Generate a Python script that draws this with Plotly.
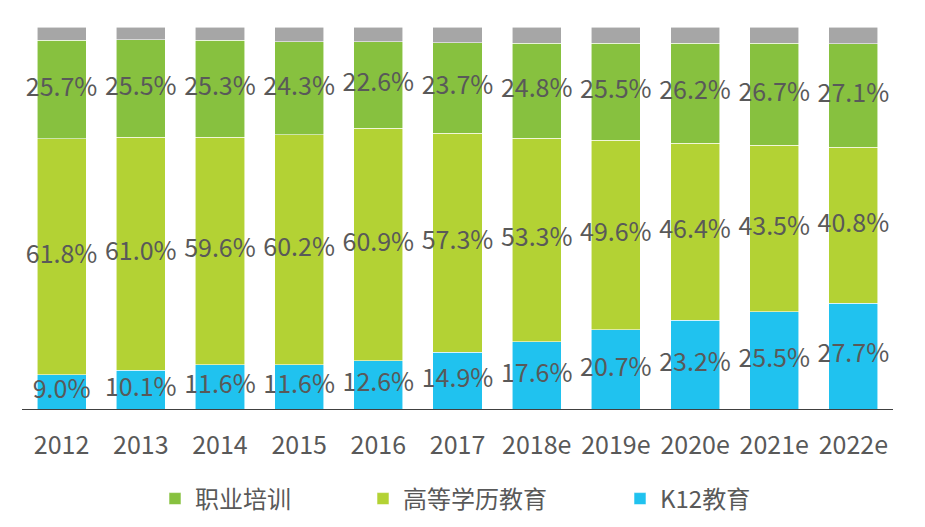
import plotly.graph_objects as go

years = ["2012", "2013", "2014", "2015", "2016", "2017", "2018e", "2019e", "2020e", "2021e", "2022e"]
k12 = [9.0, 10.1, 11.6, 11.6, 12.6, 14.9, 17.6, 20.7, 23.2, 25.5, 27.7]
higher = [61.8, 61.0, 59.6, 60.2, 60.9, 57.3, 53.3, 49.6, 46.4, 43.5, 40.8]
vocational = [25.7, 25.5, 25.3, 24.3, 22.6, 23.7, 24.8, 25.5, 26.2, 26.7, 27.1]
other = [3.5, 3.4, 3.5, 3.9, 3.9, 4.1, 4.3, 4.2, 4.2, 4.3, 4.4]

C_K12 = "#20C2EF"
C_HIGH = "#B3D234"
C_VOC = "#87C13F"
C_OTHER = "#A6A6A6"
TXT = "#595959"
FONT = "Noto Sans CJK SC"

fig = go.Figure()
line = dict(color="rgba(255,255,255,0.7)", width=0.8)
fig.add_bar(x=years, y=k12, name="K12教育", marker=dict(color=C_K12, line=line), legend="legend3")
fig.add_bar(x=years, y=higher, name="高等学历教育", marker=dict(color=C_HIGH, line=line), legend="legend2")
fig.add_bar(x=years, y=vocational, name="职业培训", marker=dict(color=C_VOC, line=line), legend="legend")
fig.add_bar(x=years, y=other, name="其他", marker=dict(color=C_OTHER, line=line), showlegend=False)

def mids(base, vals):
    return [b + v / 2 for b, v in zip(base, vals)]

zero = [0] * len(years)
base_high = k12
base_voc = [a + b for a, b in zip(k12, higher)]
for base, vals in [(zero, k12), (base_high, higher), (base_voc, vocational)]:
    fig.add_scatter(x=years, y=mids(base, vals), mode="text",
                    text=[f"{v:.1f}%" for v in vals],
                    textfont=dict(family=FONT, size=25, color=TXT),
                    showlegend=False, hoverinfo="skip", cliponaxis=False)

leg_common = dict(orientation="h", xref="container", yref="container", y=1 - 491 / 527,
                  yanchor="middle", xanchor="left", font=dict(family=FONT, size=24, color=TXT),
                  bgcolor="rgba(0,0,0,0)", borderwidth=0, tracegroupgap=0)

fig.update_layout(
    width=925, height=527,
    margin=dict(l=14, r=40, t=19, b=126, autoexpand=False),
    barmode="stack", bargap=0.38,
    plot_bgcolor="white", paper_bgcolor="white",
    font=dict(family=FONT, color=TXT),
    showlegend=True,
    legend=dict(x=147 / 925, **leg_common),
    legend2=dict(x=355 / 925, **leg_common),
    legend3=dict(x=612 / 925, **leg_common),
    xaxis=dict(showline=True, linecolor="#404040", linewidth=1, showgrid=False,
               tickfont=dict(family=FONT, size=25, color=TXT), ticks="", ticklabelstandoff=14,
               range=[-0.5, 10.5]),
    yaxis=dict(range=[0, 100], visible=False, showgrid=False, zeroline=False),
)

fig.write_html("out.html")
